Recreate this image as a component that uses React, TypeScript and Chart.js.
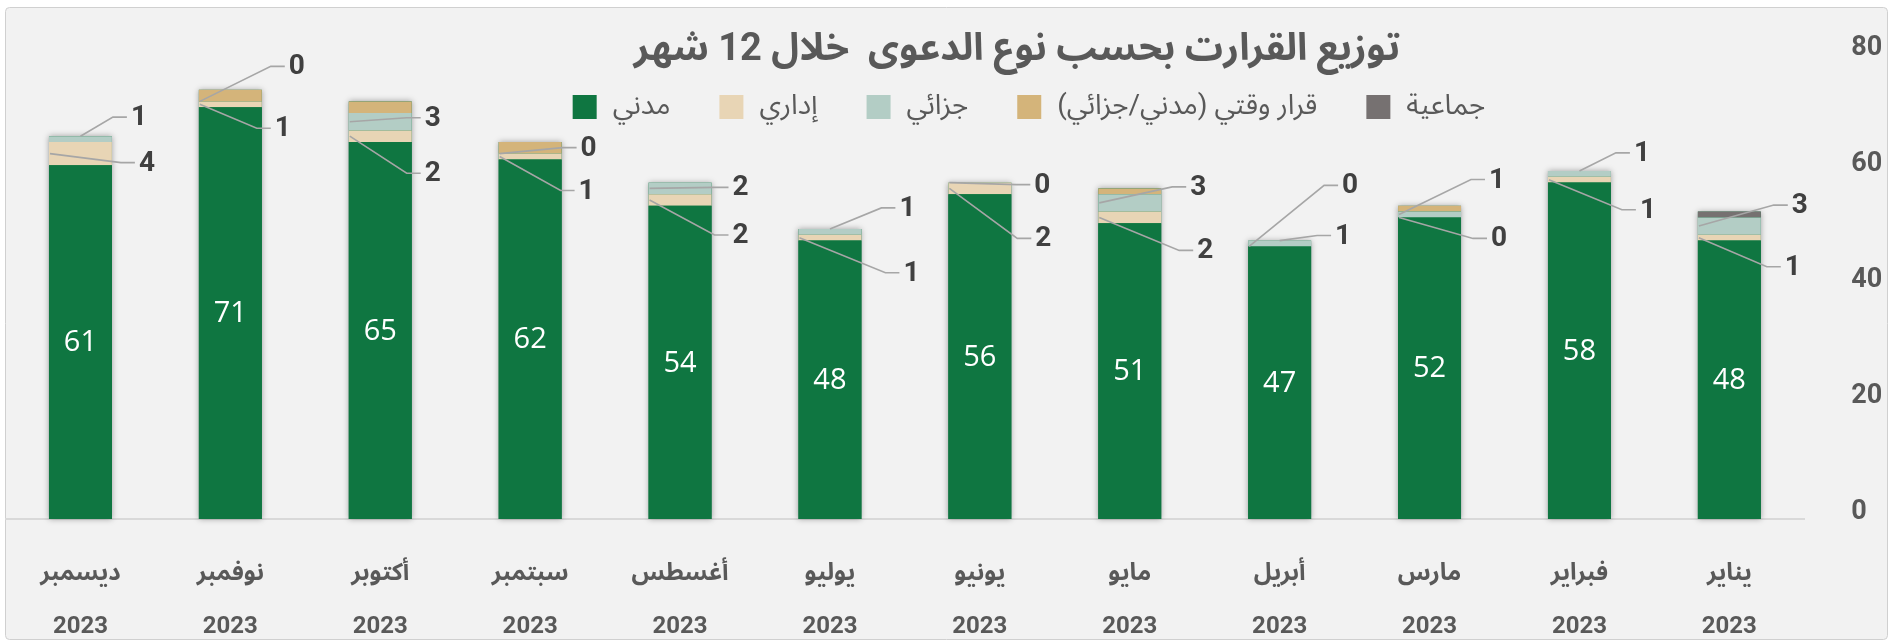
import React, { useEffect, useRef } from 'react';
import { Chart, registerables } from 'chart.js';

Chart.register(...registerables);

// ---------- data ----------
const MONTHS = ['يناير', 'فبراير', 'مارس', 'أبريل', 'مايو', 'يونيو', 'يوليو', 'أغسطس', 'سبتمبر', 'أكتوبر', 'نوفمبر', 'ديسمبر'];
const YEAR = '2023';
const MADANI = [48, 58, 52, 47, 51, 56, 48, 54, 62, 65, 71, 61];
const IDARI = [1, 1, 0, 0, 2, 2, 1, 2, 1, 2, 1, 4];
const JAZAI = [3, 1, 1, 1, 3, 0, 1, 2, 0, 3, 0, 1];
const QARAR = [0, 0, 1, 0, 1, 0, 0, 0, 2, 2, 2, 0];
const JAMAIA = [1, 0, 0, 0, 0, 0, 0, 0, 0, 0, 0, 0];
const SERIES_NAMES = ['مدني', 'إداري', 'جزائي', 'قرار وقتي (مدني/جزائي)', 'جماعية'];
const Y_TICKS = [0, 20, 40, 60, 80];
const TITLE = 'توزيع القرارت بحسب نوع الدعوى  خلال 12 شهر';

// ---------- styles ----------
const COLORS = ['#0f7641', '#e8d5b5', '#b3cdc5', '#d4b47a', '#767171'];
const TEXT_GRAY = '#595959';
const LABEL_DARK = '#404040';
const FONT = "Roboto, 'Noto Sans Arabic', 'DejaVu Sans', sans-serif";
// manual nudges of the callout labels (px, from segment right edge / middle), as in the original
const IDARI_NUDGE = [[32, 29], [37, 30], [38, 21], [39, -61], [44, 33], [32, 50], [50, 35], [29, 35], [25, 34], [21, 37], [21, 24], [35, 9]];
const JAZAI_NUDGE = [[39, -21], [31, -21], [36, -35], [32, -8], [37, -16], [31, 2], [46, -24], [29, -1], [27, -6], [21, -4], [35, -35], [27, -22]];

const ALL = [MADANI, IDARI, JAZAI, QARAR, JAMAIA];

const framePlugin = {
  id: 'frame',
  beforeDraw(chart: any) {
    const ctx = chart.ctx;
    ctx.save();
    ctx.fillStyle = '#ffffff';
    ctx.fillRect(0, 0, chart.width, chart.height);
    ctx.beginPath();
    (ctx as any).roundRect(5.5, 7.5, 1882, 632, 4);
    ctx.fillStyle = '#f2f2f2';
    ctx.fill();
    ctx.strokeStyle = '#d0d0d0';
    ctx.lineWidth = 1;
    ctx.stroke();
    ctx.restore();
  },
};

const shadowPlugin = {
  id: 'barShadow',
  beforeDatasetsDraw(chart: any) {
    const ctx = chart.ctx;
    const m0 = chart.getDatasetMeta(0);
    ctx.save();
    m0.data.forEach((el: any, i: number) => {
      let top = el.y;
      for (let d = 0; d < chart.data.datasets.length; d++) {
        const e = chart.getDatasetMeta(d).data[i];
        if (e && e.y < top) top = e.y;
      }
      ctx.shadowColor = 'rgba(0,0,0,0.35)';
      ctx.shadowBlur = 6;
      ctx.fillStyle = COLORS[0];
      ctx.fillRect(el.x - el.width / 2, top, el.width, el.base - top);
    });
    ctx.restore();
  },
};

const labelsPlugin = {
  id: 'segLabels',
  afterDatasetsDraw(chart: any) {
    const ctx = chart.ctx;
    ctx.save();
    // green value labels inside the bars
    const m0 = chart.getDatasetMeta(0);
    ctx.font = "29px 'Open Sans', sans-serif";
    ctx.fillStyle = '#ffffff';
    ctx.textAlign = 'center';
    ctx.textBaseline = 'middle';
    m0.data.forEach((el: any, i: number) => {
      ctx.fillText(String(MADANI[i]), el.x, (el.y + el.base) / 2 + 1);
    });
    // callouts for إداري and جزائي
    const defs = [
      { ds: 1, nudge: IDARI_NUDGE },
      { ds: 2, nudge: JAZAI_NUDGE },
    ];
    ctx.font = `bold 28px ${FONT}`;
    defs.forEach(({ ds, nudge }) => {
      const meta = chart.getDatasetMeta(ds);
      meta.data.forEach((el: any, i: number) => {
        const val = ALL[ds][i];
        const txt = String(val);
        const right = el.x + el.width / 2;
        const mid = (el.y + el.base) / 2;
        const lx = right + nudge[i][0];
        const ly = mid + nudge[i][1];
        const tw = ctx.measureText(txt).width;
        const left = lx - tw / 2;
        let isTop = true;
        for (let d = ds + 1; d < ALL.length; d++) if (ALL[d][i] !== 0) isTop = false;
        let ax = el.x - el.width / 2 + 1;
        let ay = mid;
        if (isTop && val > 0 && ly < el.y && el.y - ly < 30) {
          ax = el.x;
          ay = el.y;
        }
        ctx.beginPath();
        ctx.moveTo(ax, ay);
        ctx.lineTo(left - 18, ly);
        ctx.lineTo(left - 4, ly);
        ctx.strokeStyle = '#a6a6a6';
        ctx.lineWidth = 1.6;
        ctx.stroke();
        ctx.fillStyle = LABEL_DARK;
        ctx.textAlign = 'center';
        ctx.textBaseline = 'middle';
        ctx.fillText(txt, lx, ly + 1);
      });
    });
    ctx.restore();
  },
  afterDraw(chart: any) {
    const ctx = chart.ctx;
    ctx.save();
    // title
    ctx.direction = 'rtl';
    ctx.font = `bold 38px ${FONT}`;
    ctx.fillStyle = TEXT_GRAY;
    ctx.textAlign = 'center';
    ctx.textBaseline = 'middle';
    ctx.fillText(TITLE, 1017, 50);
    // legend
    ctx.font = `28px ${FONT}`;
    const box = 24;
    const gapText = 16;
    const gapItem = 49;
    const widths = SERIES_NAMES.map((s) => ctx.measureText(s).width);
    const total = widths.reduce((a, w) => a + box + gapText + w, 0) + gapItem * (SERIES_NAMES.length - 1);
    let x = 1029 - total / 2;
    const cy = 107;
    SERIES_NAMES.forEach((s, i) => {
      ctx.fillStyle = COLORS[i];
      ctx.fillRect(x, cy - box / 2, box, box);
      x += box + gapText;
      ctx.fillStyle = TEXT_GRAY;
      ctx.textAlign = 'left';
      ctx.fillText(s, x, cy);
      x += widths[i] + gapItem;
    });
    ctx.restore();
  },
};

export default function App() {
  const ref = useRef<HTMLCanvasElement | null>(null);
  useEffect(() => {
    if (!ref.current) return;
    const chart = new Chart(ref.current, {
      type: 'bar',
      data: {
        labels: MONTHS.map((m) => [m, YEAR]),
        datasets: SERIES_NAMES.map((name, i) => ({
          label: name,
          data: ALL[i],
          backgroundColor: COLORS[i],
          borderWidth: 0,
          barPercentage: 0.42,
          categoryPercentage: 1,
          stack: 's',
        })),
      },
      options: {
        responsive: false,
        animation: false,
        devicePixelRatio: 1,
        layout: { padding: { left: 5.5, top: 55, right: 0, bottom: 0 } },
        plugins: {
          legend: { display: false },
          title: { display: false },
          tooltip: { enabled: false },
        },
        scales: {
          x: {
            stacked: true,
            reverse: true,
            offset: true,
            grid: { display: false, drawTicks: false },
            border: { display: true, color: '#d9d9d9', width: 2 },
            ticks: {
              color: TEXT_GRAY,
              font: { family: FONT, size: 24, weight: 'bold', lineHeight: 2.2 },
              padding: 29,
              maxRotation: 0,
              autoSkip: false,
            },
            afterFit(s: any) {
              s.height = 125;
            },
          },
          y: {
            stacked: true,
            position: 'right',
            min: Y_TICKS[0],
            max: Y_TICKS[Y_TICKS.length - 1],
            grid: { display: false, drawTicks: true, tickLength: 42 },
            border: { display: false },
            ticks: {
              stepSize: Y_TICKS[1] - Y_TICKS[0],
              color: TEXT_GRAY,
              font: { family: FONT, size: 27, weight: 'bold' },
              padding: 5,
              labelOffset: -7,
            },
            afterFit(s: any) {
              s.width = 95.7;
            },
          },
        },
      } as any,
      plugins: [framePlugin, shadowPlugin, labelsPlugin],
    });
    return () => chart.destroy();
  }, []);
  return (
    <div style={{ position: 'absolute', left: 0, top: 0, width: 1900, height: 644 }}>
      <canvas ref={ref} width={1900} height={644} style={{ width: 1900, height: 644, display: 'block' }} />
    </div>
  );
}
